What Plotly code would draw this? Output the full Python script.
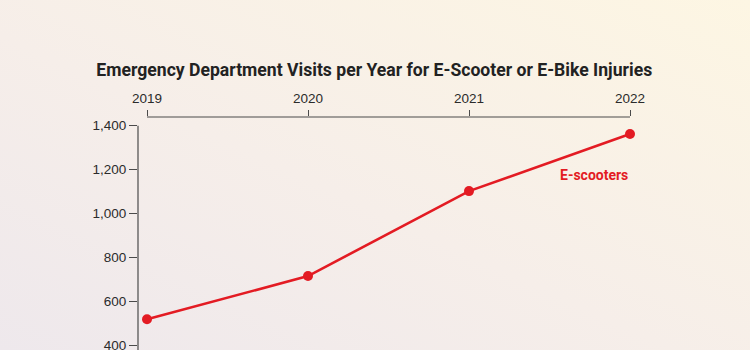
import base64
import plotly.graph_objects as go

years = [2019, 2020, 2021, 2022]
visits = [518, 715, 1102, 1362]
y_ticks = [200, 400, 600, 800, 1000, 1200, 1400]
series_name = "E-scooters"
title_text = "Emergency Department Visits per Year for E-Scooter or E-Bike Injuries"

W, H = 750, 350
L, R, T, B = 138, 110, 117, 0
pw, ph = W - L - R, H - T - B
px_per_year = 161.0
x0 = years[0] - (147 - L) / px_per_year
x1 = x0 + pw / px_per_year
px_per_unit = 0.2195
y_top = 1400 + (125.7 - T) / px_per_unit
y_bot = y_top - ph / px_per_unit

RED = "#e31b23"
AX = "#4a4a4a"
TXT = "#2b2b2b"
COND = "Roboto, sans-serif"

svg = f'''<svg xmlns="http://www.w3.org/2000/svg" width="{W}" height="{H}" viewBox="0 0 {W} {H}" preserveAspectRatio="none">
<defs><linearGradient id="g" x1="0" y1="1" x2="1" y2="0">
<stop offset="0" stop-color="#eee8ec"/>
<stop offset="0.45" stop-color="#f6eee9"/>
<stop offset="1" stop-color="#fdf6e3"/>
</linearGradient></defs>
<rect width="{W}" height="{H}" fill="url(#g)"/></svg>'''
bg = "data:image/svg+xml;base64," + base64.b64encode(svg.encode()).decode()

fig = go.Figure()
fig.add_trace(go.Scatter(
    x=years, y=visits, mode="lines+markers",
    line=dict(color=RED, width=2.6),
    marker=dict(color=RED, size=10),
    cliponaxis=False, hoverinfo="skip", showlegend=False,
))

fig.add_annotation(
    x=years[-1], y=1175, text="<b>" + series_name + "</b>",
    showarrow=False, xanchor="right", yanchor="middle",
    font=dict(family=COND, size=14, color=RED),
)

# top axis baseline between first and last year
fig.add_shape(type="line", xref="x", yref="paper",
              x0=years[0], x1=years[-1], y0=1, y1=1,
              line=dict(color=AX, width=1.2))
# left axis line from top tick downward
fig.add_shape(type="line", xref="paper", yref="y",
              x0=0, x1=0, y0=y_bot, y1=max(y_ticks),
              line=dict(color=AX, width=1.2))

tickfont = dict(family="Liberation Sans, Arial, sans-serif", size=13.5, color=TXT)

fig.update_layout(
    width=W, height=H,
    margin=dict(l=L, r=R, t=T, b=B),
    paper_bgcolor="#f6efe9",
    plot_bgcolor="rgba(0,0,0,0)",
    title=dict(text="<b>" + title_text + "</b>", x=0.499, xref="container",
               xanchor="center", y=1 - 70 / H, yref="container", yanchor="middle",
               font=dict(family=COND, size=17.6, color="#222222")),
    images=[dict(source=bg, xref="paper", yref="paper",
                 x=-L / pw, y=H / ph, sizex=W / pw, sizey=H / ph,
                 xanchor="left", yanchor="top", sizing="stretch", layer="below")],
    xaxis=dict(side="top", range=[x0, x1], tickvals=years, ticktext=[str(v) for v in years],
               showgrid=False, zeroline=False, showline=False, automargin=False,
               ticks="outside", ticklen=6, tickwidth=1.2, tickcolor=AX,
               ticklabelstandoff=2,
               tickfont=tickfont),
    yaxis=dict(range=[y_bot, y_top], tickvals=y_ticks, tickformat=",",
               showgrid=False, zeroline=False, showline=False, automargin=False,
               ticks="outside", ticklen=8, tickwidth=1.2, tickcolor=AX,
               ticklabeloverflow="allow",
               tickfont=tickfont),
)

fig.write_html("out.html")
